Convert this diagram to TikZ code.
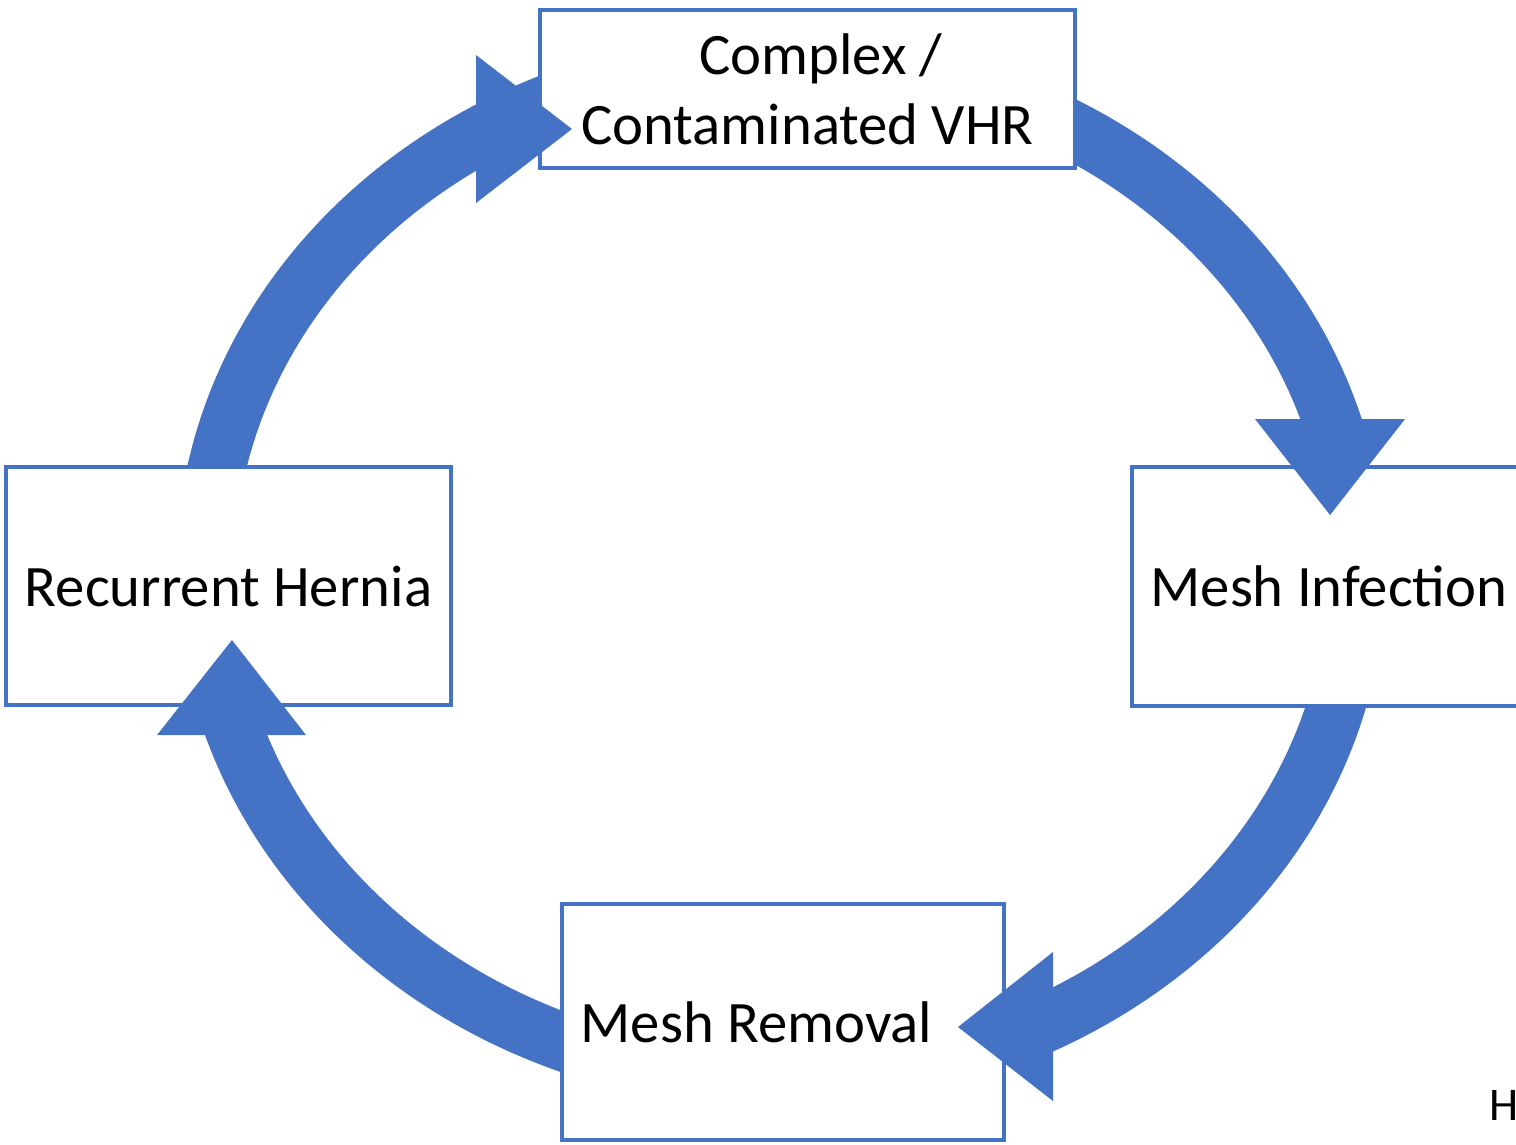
\documentclass[tikz,border=0pt]{standalone}
\usepackage{fontspec}
\setmainfont{Carlito}
\definecolor{obl}{HTML}{4472C4}
\begin{document}
\begin{tikzpicture}[x=0.01cm,y=-0.01cm,
  box/.style={draw=obl,line width=1.14pt,fill=white,inner sep=0pt,align=center,
    font=\fontsize{16.7}{20}\selectfont},
  band/.style={draw=obl,line width=0.58cm,line join=round},
  head/.style={fill=obl}]
\useasboundingbox (0,0) rectangle (1516,1144);
\coordinate (ctr) at (781,570);
% arc bands (under the boxes)
\draw[band,shift={(ctr)}] plot[domain=-62:-14.8,samples=80] (\x:576 and 510);
\draw[band,shift={(ctr)}] plot[domain=10:64,samples=80] (\x:576 and 510);
\draw[band,shift={(ctr)}] plot[domain=108.6:163.5,samples=80] (\x:576 and 510);
\draw[band,shift={(ctr)}] plot[domain=187.9:250,samples=80] (\x:576 and 510);
% boxes
\node[box,minimum width=5.35cm,minimum height=1.58cm] (vhr) at (807.5,89)
  {\hspace*{0.27cm}Complex /\\Contaminated VHR};
\node[box,minimum width=3.94cm,minimum height=2.39cm] (inf) at (1329,586.5) {Mesh Infection};
\node[box,minimum width=4.42cm,minimum height=2.36cm] (rem) at (783,1022) {Mesh Removal\hspace*{0.53cm}};
\node[box,minimum width=4.45cm,minimum height=2.38cm] (rec) at (228.5,586) {Recurrent Hernia};
% arrowheads
\fill[head] (1255,419) -- (1405,419) -- (1330,515) -- cycle;
\fill[head] (1053,952) -- (1053,1101) -- (958,1027) -- cycle;
\fill[head] (157,735) -- (306,735) -- (232,640) -- cycle;
\fill[head] (476,55) -- (476,203) -- (572,129) -- cycle;
% stray letter
\node[anchor=base west,inner sep=0pt,font=\fontsize{13.3}{16}\selectfont] (h) at (1489,1120) {H};
\end{tikzpicture}
\end{document}
